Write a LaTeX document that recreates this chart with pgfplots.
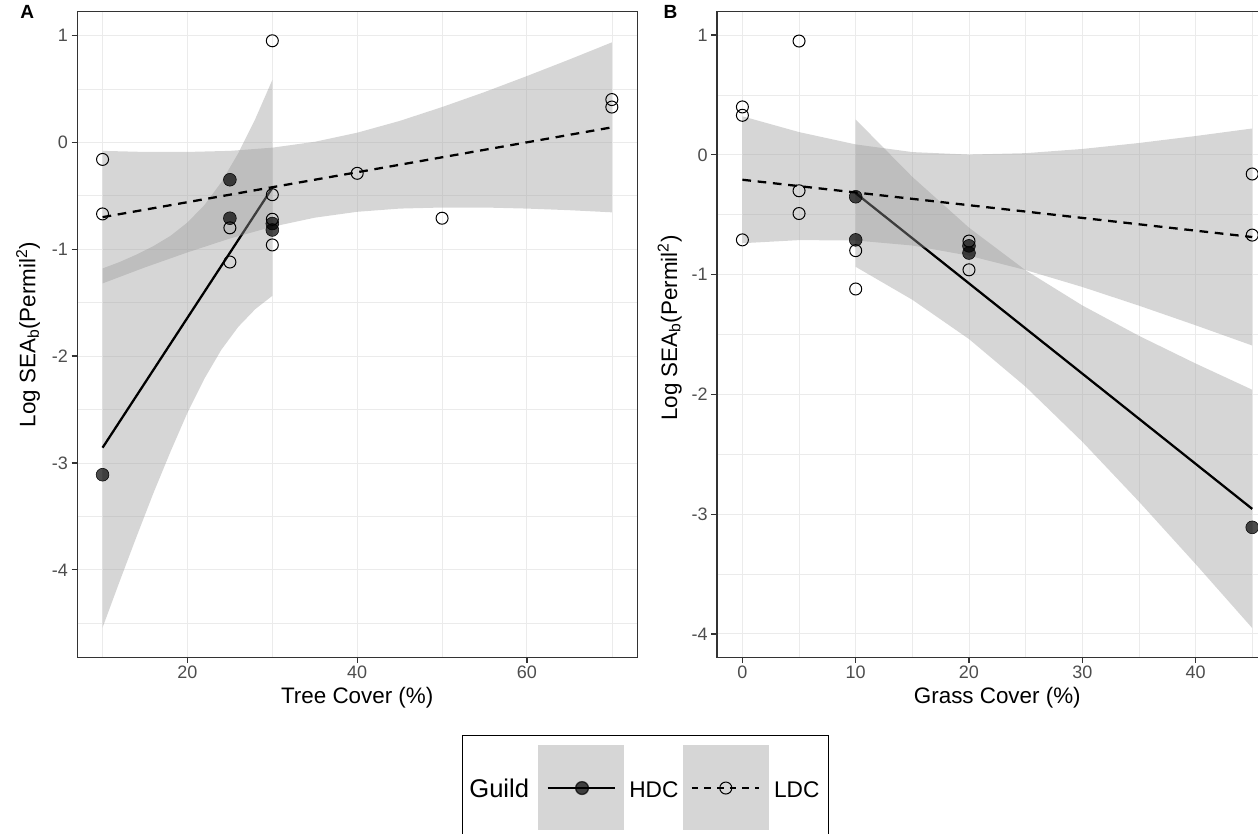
\documentclass[border=0pt]{standalone}
\usepackage{pgfplots}
\usepackage{fontspec}
\setmainfont{Liberation Sans}
\pgfplotsset{compat=1.18}
\definecolor{GridC}{HTML}{EBEBEB}
\definecolor{FrameC}{HTML}{333333}
\definecolor{TickC}{HTML}{4D4D4D}
\definecolor{KeyC}{HTML}{D6D6D6}
\pgfplotsset{
  panel/.style={
    scale only axis,
    height=484.2pt,
    axis line style={FrameC, line width=0.9pt},
    tick style={FrameC, line width=0.9pt},
    major tick length=4.1pt, minor tick length=0pt,
    tick align=outside, xtick pos=left, ytick pos=left,
    grid=both,
    major grid style={GridC, line width=0.7pt},
    minor grid style={GridC, line width=0.45pt},
    ticklabel style={font=\fontsize{13.5}{16}\selectfont, text=TickC},
    xticklabel style={anchor=north, inner sep=0pt, yshift=-1.9pt},
    yticklabel style={anchor=east, inner sep=0pt, xshift=-2.7pt},
    every axis x label/.style={at={(axis description cs:0.5,0)}, anchor=base, yshift=-34.3pt,
      font=\fontsize{16.8}{20}\selectfont, inner sep=0pt},
    ytick={-4,-3,-2,-1,0,1},
    yticklabels={-4,-3,-2,-1,0,1},
    minor ytick={-4.5,-3.5,-2.5,-1.5,-0.5,0.5},
    ylabel={Log SEA\textsubscript{b}(Permil\textsuperscript{2})},
    title style={anchor=base west, inner sep=0pt, font=\bfseries\fontsize{14.3}{16}\selectfont},
  },
  ldcpts/.style={forget plot, only marks, mark=o, mark size=4.5pt, mark options={line width=0.75pt, draw=black}},
  hdcpts/.style={forget plot, only marks, mark=*, mark size=4.8pt, mark options={draw=none, fill=black, fill opacity=0.7}},
  band/.style={forget plot, draw=none, fill=black!40, fill opacity=0.4},
  hdcline/.style={forget plot, black, line width=1.7pt},
  ldcline/.style={forget plot, black, line width=1.7pt, dash pattern=on 6.5pt off 5pt},
}

\begin{document}
\begin{tikzpicture}
\path[use as bounding box] (0,0) rectangle (943.5pt,-625.5pt);
\clip (0,0) rectangle (943.5pt,-625.5pt);

% Panel A: tree cover
\begin{axis}[
  panel,
  at={(57.83pt,-8.78pt)}, anchor=north west,
  width=420.15pt,
  xmin=7, xmax=73, ymin=-4.818, ymax=1.222,
  xtick={20,40,60}, xticklabels={20,40,60},
  minor xtick={10,30,50,70},
  xlabel={Tree Cover (\%)},
  every axis y label/.style={at={(axis description cs:-0.0743,0.5)}, rotate=90, anchor=base,
    font=\fontsize{16.8}{20}\selectfont, inner sep=0pt},
  title={A}, title style={at={(axis description cs:-0.1019,0.9778)}},
  legend columns=-1,
  legend style={at={(axis description cs:0.6865,-0.1204)}, anchor=north west,
    draw=black, line width=1pt, fill=white, inner xsep=7pt, inner ysep=6.75pt,
    nodes={inner sep=0pt, text depth=0pt}, cells={anchor=base west},
    /tikz/every odd column/.style={column sep=3.75pt},
    /tikz/every even column/.style={column sep=3.2pt},
    /tikz/column 1/.style={column sep=0pt},
    /tikz/column 2/.style={column sep=6.2pt}},
]
\addplot[ldcpts] coordinates {(10,-0.16) (10,-0.67) (25,-0.80) (25,-1.12) (30,0.95) (30,-0.49)
  (30,-0.72) (30,-0.96) (40,-0.29) (50,-0.71) (70,0.40) (70,0.33)};
\addplot[hdcpts] coordinates {(10,-3.11) (25,-0.35) (25,-0.71) (30,-0.76) (30,-0.82)};
\addplot[band] coordinates {(10,-1.18) (12,-1.12) (14,-1.05) (16,-0.97) (18,-0.875) (20,-0.75)
  (22,-0.587) (24,-0.372) (26,-0.10) (28,0.22) (30,0.584)
  (30,-1.436) (28,-1.56) (26,-1.725) (24,-1.94) (22,-2.211) (20,-2.53) (18,-2.895)
  (16,-3.28) (14,-3.69) (12,-4.11) (10,-4.54)} -- cycle;
\addplot[hdcline] coordinates {(10,-2.857) (30,-0.426)};
\addplot[band] coordinates {(10,-0.08) (15,-0.09) (20,-0.09) (25,-0.08) (30,-0.05) (35,0.005)
  (40,0.09) (45,0.20) (50,0.33) (55,0.47) (60,0.62) (65,0.775) (70,0.935)
  (70,-0.655) (65,-0.635) (60,-0.62) (55,-0.61) (50,-0.61) (45,-0.62) (40,-0.65)
  (35,-0.705) (30,-0.79) (25,-0.90) (20,-1.03) (15,-1.17) (10,-1.32)} -- cycle;
\addplot[ldcline] coordinates {(10,-0.70) (70,0.14)};

\addlegendimage{empty legend}
\addlegendentry{\fontsize{19.2}{22}\selectfont\hspace*{-5.5pt}Guild\hspace*{3.5pt}}
\addlegendimage{legend image code/.code={
  \fill[KeyC] (0pt,-24.2pt) rectangle (63.75pt,39pt);
  \draw[black, line width=1.7pt, solid] (6.75pt,7pt) -- (57pt,7pt);
  \fill[black, opacity=0.7] (32.5pt,7pt) circle (4.8pt);}}
\addlegendentry{\fontsize{17}{20}\selectfont HDC}
\addlegendimage{legend image code/.code={
  \fill[KeyC] (0pt,-24.2pt) rectangle (63.75pt,39pt);
  \draw[black, line width=1.7pt, dash pattern=on 5pt off 4.5pt] (6.3pt,7pt) -- (56.8pt,7pt);
  \draw[black, line width=0.75pt] (31.8pt,7pt) circle (4.5pt);}}
\addlegendentry{\fontsize{17}{20}\selectfont LDC}
\end{axis}

% Panel B: grass cover
\begin{axis}[
  panel,
  at={(537.68pt,-8.78pt)}, anchor=north west,
  width=420.6pt,
  xmin=-2.25, xmax=47.25, ymin=-4.195, ymax=1.195,
  xtick={0,10,20,30,40}, xticklabels={0,10,20,30,40},
  minor xtick={5,15,25,35,45},
  xlabel={Grass Cover (\%)},
  every axis y label/.style={at={(axis description cs:-0.0711,0.51)}, rotate=90, anchor=base,
    font=\fontsize{16.8}{20}\selectfont, inner sep=0pt},
  title={B}, title style={at={(axis description cs:-0.0956,0.9778)}},
]
\addplot[ldcpts] coordinates {(0,0.40) (0,0.33) (0,-0.71) (5,0.95) (5,-0.30) (5,-0.49)
  (10,-0.80) (10,-1.12) (20,-0.72) (20,-0.96) (45,-0.16) (45,-0.67)};
\addplot[hdcpts] coordinates {(10,-0.35) (10,-0.71) (20,-0.76) (20,-0.82) (45,-3.11)};
\addplot[band] coordinates {(10,0.295) (15,-0.184) (20,-0.608) (25,-0.964) (30,-1.257)
  (35,-1.511) (40,-1.742) (45,-1.961)
  (45,-3.951) (40,-3.416) (35,-2.895) (30,-2.395) (25,-1.936) (20,-1.538) (15,-1.210) (10,-0.935)} -- cycle;
\addplot[hdcline] coordinates {(10,-0.32) (45,-2.956)};
\addplot[band] coordinates {(0,0.322) (5,0.190) (10,0.087) (15,0.023) (20,0.002) (25,0.014)
  (30,0.049) (35,0.099) (40,0.157) (45,0.220)
  (45,-1.592) (40,-1.423) (35,-1.259) (30,-1.103) (25,-0.962) (20,-0.842) (15,-0.757)
  (10,-0.715) (5,-0.712) (0,-0.738)} -- cycle;
\addplot[ldcline] coordinates {(0,-0.208) (45,-0.686)};
\end{axis}
\end{tikzpicture}
\end{document}
